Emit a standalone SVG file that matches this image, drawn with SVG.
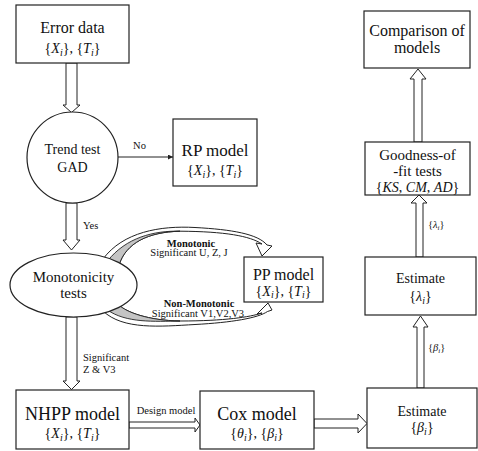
<svg xmlns="http://www.w3.org/2000/svg" width="478" height="451" viewBox="0 0 478 451" font-family="'Liberation Serif', 'DejaVu Serif', 'Times New Roman', serif">
<defs>
<style>
.box{fill:#fff;stroke:#222;stroke-width:1.2}
.ha{fill:#fff;stroke:#222;stroke-width:1}
.t{font-family:'Liberation Serif','DejaVu Serif','Times New Roman',serif;fill:#111;text-anchor:middle}
.sm{font-family:'Liberation Serif','DejaVu Serif','Times New Roman',serif;fill:#111;font-size:10.5px}
.b{font-weight:bold}
.i{font-style:italic}
.band{fill:#fff;stroke:#222;stroke-width:1}
.gray{fill:#c4c4c4;stroke:#222;stroke-width:0.9}
</style>
<marker id="ah" viewBox="0 0 10 10" refX="10" refY="5" markerWidth="5" markerHeight="5" orient="auto" markerUnits="userSpaceOnUse">
<path d="M0,0 L10,5 L0,10 z" fill="#222"/>
</marker>
</defs>
<rect width="478" height="451" fill="#fff"/>

<g id="connectors">
<polygon class="ha" points="66,63 77,63 77,105 80,105 71.5,112.5 63,105 66,105"/>
<line x1="118" y1="157" x2="173" y2="157" stroke="#222" stroke-width="1" marker-end="url(#ah)"/>
<polygon class="ha" points="66,203 77,203 77,240 80,240 71.5,250 63,240 66,240"/>
<polygon class="ha" points="66,317 77,317 77,381 80,381 71.5,389.5 63,381 66,381"/>
<polygon class="ha" points="129,422 195,422 195,418 200,425 195,432 195,428 129,428"/>
<polygon class="ha" points="314,419 358,419 358,414 367,423.5 358,433 358,428 314,428"/>
<polygon class="ha" points="417,388 417,327 413,327 420.5,316 428,327 424,327 424,388"/>
<polygon class="ha" points="416,257 416,203 411,203 419,195 427,203 423,203 423,257"/>
<polygon class="ha" points="414,142 414,79 410,79 418,69 426,79 422,79 422,142"/>
<!-- top curved arrow -->
<path class="band" d="M103,259 C123,232 160,225.5 195,227.5 C232,229.5 258,234 267,245 L272,246 L262,256 L256,243 L262,244 C250,236 225,231.5 180,231.2 C148,232 126,243 119,265 Z"/>
<path class="gray" d="M107.5,261 C126,237.5 154,230.5 180,231.2 C148,232 126,243 119,265 Z"/>
<!-- bottom curved arrow -->
<path class="band" d="M103,311 C123,330 160,326.5 195,324.5 C232,322.5 258,318 267.5,311.5 L272,310 L268,303 L257,314 L262,313 C250,317 225,321 180,321 C148,320.5 126,312 119,305 Z"/>
<path class="gray" d="M107.5,310 C126,323 154,321.5 180,321 C148,320.5 126,312 119,305 Z"/>
</g>

<g id="error-data">
<rect class="box" x="16" y="5" width="113" height="58"/>
<text class="t" x="72.5" y="33" font-size="16">Error data</text>
<text class="t" x="72.5" y="53" font-size="14">{<tspan class="i">X</tspan><tspan class="i" font-size="10" dy="2.5">i</tspan><tspan dy="-2.5">}, {</tspan><tspan class="i">T</tspan><tspan class="i" font-size="10" dy="2.5">i</tspan><tspan dy="-2.5">}</tspan></text>
</g>

<g id="trend-test">
<circle class="box" cx="72.5" cy="157.5" r="45.5"/>
<text class="t" x="72.5" y="154" font-size="14">Trend test</text>
<text class="t" x="72.5" y="172" font-size="14">GAD</text>
</g>

<g id="rp-model">
<rect class="box" x="173" y="119" width="84" height="67"/>
<text class="t" x="215" y="156" font-size="17">RP model</text>
<text class="t" x="215" y="175" font-size="14">{<tspan class="i">X</tspan><tspan class="i" font-size="10" dy="2.5">i</tspan><tspan dy="-2.5">}, {</tspan><tspan class="i">T</tspan><tspan class="i" font-size="10" dy="2.5">i</tspan><tspan dy="-2.5">}</tspan></text>
</g>

<g id="monotonicity-tests">
<ellipse class="box" cx="73.5" cy="285" rx="63.5" ry="32"/>
<text class="t" x="73.5" y="282" font-size="15">Monotonicity</text>
<text class="t" x="73.5" y="298" font-size="15">tests</text>
</g>

<g id="pp-model">
<rect class="box" x="244" y="257" width="79" height="45"/>
<text class="t" x="283.5" y="279.5" font-size="16">PP model</text>
<text class="t" x="283.5" y="295.5" font-size="14">{<tspan class="i">X</tspan><tspan class="i" font-size="10" dy="2.5">i</tspan><tspan dy="-2.5">}, {</tspan><tspan class="i">T</tspan><tspan class="i" font-size="10" dy="2.5">i</tspan><tspan dy="-2.5">}</tspan></text>
</g>

<g id="nhpp-model">
<rect class="box" x="16" y="390" width="113" height="59"/>
<text class="t" x="72.5" y="420" font-size="18">NHPP model</text>
<text class="t" x="72.5" y="438" font-size="14">{<tspan class="i">X</tspan><tspan class="i" font-size="10" dy="2.5">i</tspan><tspan dy="-2.5">}, {</tspan><tspan class="i">T</tspan><tspan class="i" font-size="10" dy="2.5">i</tspan><tspan dy="-2.5">}</tspan></text>
</g>

<g id="cox-model">
<rect class="box" x="200" y="391" width="114" height="58"/>
<text class="t" x="257" y="420" font-size="18">Cox model</text>
<text class="t" x="257" y="438" font-size="14">{<tspan class="i">θ</tspan><tspan class="i" font-size="10" dy="2.5">i</tspan><tspan dy="-2.5">}, {</tspan><tspan class="i">β</tspan><tspan class="i" font-size="10" dy="2.5">i</tspan><tspan dy="-2.5">}</tspan></text>
</g>

<g id="estimate-beta">
<rect class="box" x="367" y="388" width="110" height="60"/>
<text class="t" x="422" y="416" font-size="14">Estimate</text>
<text class="t" x="422" y="432" font-size="14">{<tspan class="i">β</tspan><tspan class="i" font-size="10" dy="2.5">i</tspan><tspan dy="-2.5">}</tspan></text>
</g>

<g id="estimate-lambda">
<rect class="box" x="365" y="257" width="111" height="58"/>
<text class="t" x="420.5" y="283" font-size="14">Estimate</text>
<text class="t" x="420.5" y="301" font-size="14">{<tspan class="i">λ</tspan><tspan class="i" font-size="10" dy="2.5">i</tspan><tspan dy="-2.5">}</tspan></text>
</g>

<g id="goodness-of-fit">
<rect class="box" x="365" y="142" width="105" height="53"/>
<text class="t" x="417.5" y="159.5" font-size="15">Goodness-of</text>
<text class="t" x="417.5" y="175.5" font-size="15">-fit tests</text>
<text class="t" x="417.5" y="191.5" font-size="14">{<tspan class="i">KS</tspan>, <tspan class="i">CM</tspan>, <tspan class="i">AD</tspan>}</text>
</g>

<g id="comparison">
<rect class="box" x="364" y="11" width="106" height="57"/>
<text class="t" x="417" y="36" font-size="16">Comparison of</text>
<text class="t" x="417" y="53" font-size="16">models</text>
</g>

<g id="labels">
<text class="sm" x="139.5" y="149" text-anchor="middle" font-size="10">No</text>
<text class="sm" x="83" y="229" font-size="10">Yes</text>
<text class="sm b" x="191" y="246.5" text-anchor="middle">Monotonic</text>
<text class="sm" x="189" y="256" text-anchor="middle">Significant U, Z, J</text>
<text class="sm b" x="199" y="306.5" text-anchor="middle">Non-Monotonic</text>
<text class="sm" x="198" y="317" text-anchor="middle">Significant V1,V2,V3</text>
<text class="sm" x="83" y="361" font-size="11">Significant</text>
<text class="sm" x="83" y="373" font-size="11">Z &amp; V3</text>
<text class="sm" x="166" y="414" text-anchor="middle">Design model</text>
<text class="sm" x="428" y="351" font-size="10">{<tspan class="i">β</tspan><tspan class="i" font-size="7" dy="2">i</tspan><tspan dy="-2">}</tspan></text>
<text class="sm" x="428" y="228" font-size="10">{<tspan class="i">λ</tspan><tspan class="i" font-size="7" dy="2">i</tspan><tspan dy="-2">}</tspan></text>
</g>
</svg>
